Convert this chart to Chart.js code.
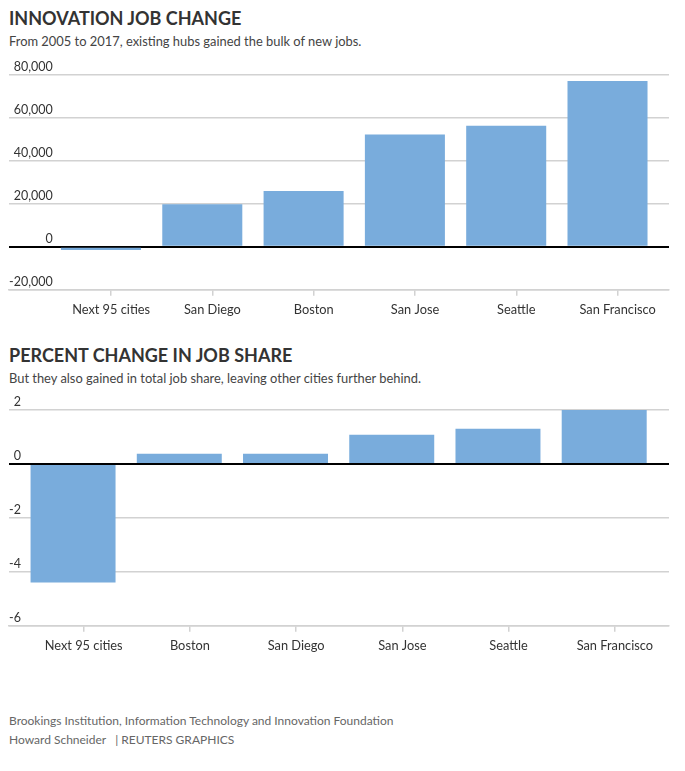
<!DOCTYPE html>
<html>
<head>
<meta charset="utf-8">
<script src="https://cdn.jsdelivr.net/npm/chart.js@4"></script>
<style>
  body { margin: 0; background: #fff; font-family: Lato, sans-serif; color: #333; }
  .page { position: relative; width: 685px; height: 771px; }
  .title { position: absolute; left: 9px; font-size: 18px; font-weight: bold; color: #333; }
  .sub { position: absolute; left: 9px; font-size: 12.9px; color: #444; }
  .box { position: absolute; left: 0; width: 685px; }
  .foot { position: absolute; left: 9px; font-size: 12px; color: #666; line-height: 19px; }
</style>
</head>
<body>
<div class="page">
  <div class="title" style="top:7px">INNOVATION JOB CHANGE</div>
  <div class="sub" style="top:33px">From 2005 to 2017, existing hubs gained the bulk of new jobs.</div>
  <div class="box" style="top:55px;height:270px"><canvas id="jobChart"></canvas></div>

  <div class="title" style="top:344px">PERCENT CHANGE IN JOB SHARE</div>
  <div class="sub" style="top:370px">But they also gained in total job share, leaving other cities further behind.</div>
  <div class="box" style="top:390px;height:271px"><canvas id="shareChart"></canvas></div>

  <div class="foot" style="top:711px">Brookings Institution, Information Technology and Innovation Foundation<br>Howard Schneider &nbsp;&nbsp;| REUTERS GRAPHICS</div>
</div>

<script>
// Innovation job change, 2005-2017
const jobCities = ['Next 95 cities', 'San Diego', 'Boston', 'San Jose', 'Seattle', 'San Francisco'];
const jobChange = [-1500, 19800, 26000, 52300, 56300, 77200];
const jobTicks = [-20000, 0, 20000, 40000, 60000, 80000];

// Percent change in job share
const shareCities = ['Next 95 cities', 'Boston', 'San Diego', 'San Jose', 'Seattle', 'San Francisco'];
const shareChange = [-4.4, 0.38, 0.38, 1.08, 1.3, 2.0];
const shareTicks = [-6, -4, -2, 0, 2];

const barColor = '#79acdc';
const gridColor = '#d2d2d2';

/**
 * Builds one bar chart. Bars sit on a linear index axis so the
 * plot can start left of the first bar like the original.
 */
function makeBarChart(id, cities, values, yTicks, xMin, xMax, barPct, fmt) {
    const ctx = document.getElementById(id).getContext('2d');
    return new Chart(ctx, {
        type: 'bar',
        data: {
            datasets: [{
                data: values.map((v, i) => ({ x: i, y: v })),
                backgroundColor: barColor,
                borderWidth: 0,
                barPercentage: barPct,
                categoryPercentage: 1
            }]
        },
        options: {
            responsive: true,
            maintainAspectRatio: false,
            animation: false,
            layout: { padding: { left: 9, right: 16, top: 20, bottom: 0 } },
            plugins: { legend: { display: false }, tooltip: { enabled: false } },
            scales: {
                x: {
                    type: 'linear',
                    offset: false,
                    min: xMin,
                    max: xMax,
                    afterBuildTicks: (scale) => {
                        // tick marks and labels sit a little right of the bar centres
                        scale.ticks = cities.map((c, i) => ({ value: i + 0.1 }));
                    },
                    grid: { offset: false, drawOnChartArea: false, drawTicks: true, tickLength: 6, color: gridColor, lineWidth: 1.5 },
                    border: { display: true, color: gridColor, width: 1.5 },
                    ticks: {
                        autoSkip: false,
                        maxRotation: 0,
                        padding: 7,
                        color: '#333',
                        font: { family: 'Lato', size: 12.8 },
                        callback: (v) => cities[Math.round(v)]
                    }
                },
                y: {
                    min: yTicks[0],
                    max: yTicks[yTicks.length - 1],
                    afterBuildTicks: (scale) => {
                        scale.ticks = yTicks.map(v => ({ value: v }));
                    },
                    // labels are drawn inside the plot, so the axis takes no room
                    afterFit: (scale) => { scale.width = 0; },
                    grid: {
                        drawTicks: false,
                        color: (c) => c.tick && c.tick.value === 0 ? '#000' : gridColor,
                        lineWidth: (c) => c.tick && c.tick.value === 0 ? 2 : 1.5
                    },
                    border: { display: false },
                    ticks: {
                        mirror: true,
                        crossAlign: 'far',
                        padding: 0,
                        labelOffset: -8,
                        color: '#333',
                        font: { family: 'Lato', size: 12.5 },
                        callback: fmt
                    }
                }
            }
        }
    });
}

makeBarChart('jobChart', jobCities, jobChange, jobTicks, -0.908, 5.607, 0.79,
    (v) => v.toLocaleString('en-US'));
makeBarChart('shareChart', shareCities, shareChange, shareTicks, -0.603, 5.61, 0.80,
    (v) => String(v));
</script>
</body>
</html>
